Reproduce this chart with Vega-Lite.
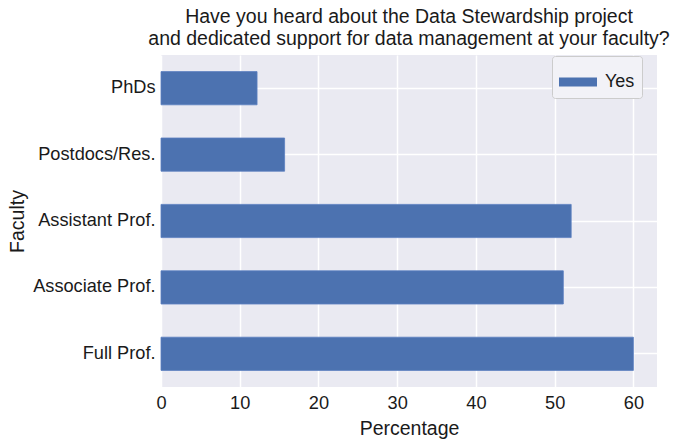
{
  "$schema": "https://vega.github.io/schema/vega-lite/v6.json",
  "autosize": "none",
  "padding": {"left": 161, "top": 55, "right": 19, "bottom": 55},
  "width": 496,
  "height": 332,
  "background": "white",
  "title": {
    "text": ["Have you heard about the Data Stewardship project", "and dedicated support for data management at your faculty?"],
    "font": "Liberation Sans",
    "fontSize": 19.5,
    "fontWeight": "normal",
    "color": "#1a1a1a",
    "anchor": "middle",
    "lineHeight": 22,
    "offset": 6
  },
  "config": {
    "view": {"fill": "#EAEAF2", "stroke": null},
    "axis": {
      "labelFont": "Liberation Sans",
      "titleFont": "Liberation Sans",
      "labelColor": "#1a1a1a",
      "titleColor": "#1a1a1a",
      "labelFontSize": 18.2,
      "titleFontSize": 19.5,
      "titleFontWeight": "normal",
      "domain": false,
      "ticks": false,
      "gridColor": "white",
      "gridWidth": 1.5,
      "gridOpacity": 1
    }
  },
  "data": {
    "values": [
      {"Faculty": "PhDs", "Percentage": 12.2, "Answer": "Yes"},
      {"Faculty": "Postdocs/Res.", "Percentage": 15.7, "Answer": "Yes"},
      {"Faculty": "Assistant Prof.", "Percentage": 52.1, "Answer": "Yes"},
      {"Faculty": "Associate Prof.", "Percentage": 51.1, "Answer": "Yes"},
      {"Faculty": "Full Prof.", "Percentage": 60.0, "Answer": "Yes"}
    ]
  },
  "mark": {"type": "bar", "stroke": "#5a7fc0", "strokeWidth": 0.8},
  "encoding": {
    "y": {
      "field": "Faculty",
      "type": "nominal",
      "sort": null,
      "scale": {"paddingInner": 0.5, "paddingOuter": 0.25},
      "axis": {"title": "Faculty", "labelPadding": 6, "titlePadding": 5, "bandPosition": 0.5, "grid": true}
    },
    "x": {
      "field": "Percentage",
      "type": "quantitative",
      "scale": {"domain": [0, 63], "nice": false},
      "axis": {"title": "Percentage", "values": [0, 10, 20, 30, 40, 50, 60], "labelPadding": 7, "titlePadding": 8, "labelFlush": false}
    },
    "color": {
      "field": "Answer",
      "type": "nominal",
      "scale": {"range": ["#4C72B0"]},
      "legend": {
        "title": null,
        "orient": "none",
        "legendX": 391,
        "legendY": 1,
        "direction": "vertical",
        "fillColor": "#F2F2F7",
        "strokeColor": "#CCCCCC",
        "cornerRadius": 3,
        "padding": 7,
        "symbolType": "M-1,-0.237H1V0.237H-1Z",
        "symbolSize": 1444,
        "symbolStrokeWidth": 0,
        "labelFont": "Liberation Sans",
        "labelFontSize": 18,
        "labelColor": "#1a1a1a",
        "labelOffset": 8,
        "labelLimit": 200,
        "offset": 0
      }
    }
  }
}
